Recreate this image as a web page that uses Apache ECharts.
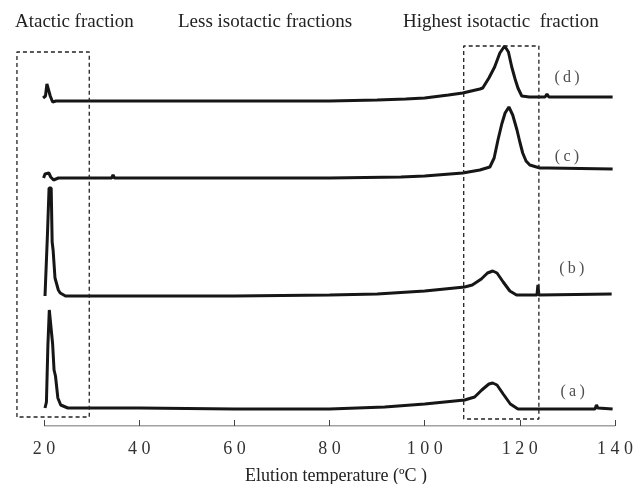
<!DOCTYPE html>
<html>
<head>
<meta charset="utf-8">
<script src="https://cdn.jsdelivr.net/npm/echarts@6/dist/echarts.min.js"></script>
<style>
  html, body { margin: 0; padding: 0; background: #fff; }
  #main { width: 638px; height: 484px; }
</style>
</head>
<body>
<div id="main"></div>
<script>
// elution temperature (°C) vs detector signal, traces stacked with an offset
var traceA = [[20.2, 18], [20.5, 24], [20.8, 80], [21.1, 116], [21.5, 116], [21.8, 82], [22.1, 56], [22.4, 50],
    [22.9, 28], [23.5, 21], [25, 18], [40, 18], [60, 17], [80, 17], [91.6, 19], [100, 22], [108.4, 26],
    [110.5, 29], [112, 36], [113.5, 42], [114.3, 43], [115.2, 41], [116.5, 32], [118, 22], [119.6, 17],
    [125, 17], [135.8, 17], [136.1, 21], [136.4, 18], [139.5, 17]]
var traceB = [[20.2, 130], [20.4, 132], [20.7, 190], [21.05, 238], [21.5, 238], [21.7, 184], [21.9, 176],
    [22.3, 148], [23.0, 136], [23.4, 133], [24.5, 130], [40, 130], [60, 130], [80, 131], [90, 132], [100, 135],
    [108.4, 139], [110, 141], [111.9, 147], [113.2, 153], [114.3, 155], [115.2, 153], [116.5, 144],
    [117.9, 135], [119.3, 131], [123.6, 131], [123.8, 141], [124.0, 131], [139.3, 132]]
var traceC = [[19.9, 248], [20.2, 252], [20.6, 254], [21.0, 253], [21.4, 249], [22, 246], [23, 248],
    [34.2, 248], [34.5, 251], [34.8, 248], [60, 248], [80, 248], [95, 249], [100, 250], [108, 253],
    [111.6, 256], [113.7, 259], [114.6, 268], [115.4, 286], [116.2, 302], [116.9, 313], [117.7, 319],
    [118.5, 311], [119.4, 296], [120.0, 284], [120.6, 273], [121.3, 265], [122.1, 261], [124.2, 258],
    [126, 258], [139.5, 257]]
var traceD = [[19.8, 328], [20.3, 330], [20.6, 342], [21.0, 342], [21.3, 330], [21.8, 324], [22.5, 325],
    [40, 325], [60, 325], [80, 325], [90, 326], [96, 327], [100, 328], [105, 331], [108, 333],
    [111.6, 337], [112.2, 338], [113.5, 348], [114.7, 359], [115.8, 373], [116.8, 380], [117.6, 374],
    [118.3, 359], [119.0, 347], [119.6, 338], [120.4, 330], [122, 329], [125.3, 329], [125.7, 332],
    [126.1, 329], [139.5, 329]]

var traceLabels = [[131.1, 34, '(\u2009a\u2009)'], [130.9, 157, '(\u2009b\u2009)'],
    [129.9, 269, '(\u2009c\u2009)'], [129.9, 348, '(\u2009d\u2009)']]

// dashed boxes around the atactic and highest isotactic regions
var boxAtactic = [[14.3, 9], [14.3, 374], [29.5, 374], [29.5, 9], [14.3, 9]]
var boxIsotactic = [[108.2, 7], [108.2, 380], [124.0, 380], [124.0, 7], [108.2, 7]]

var xTicks = [20, 40, 60, 80, 100, 120, 140]
var axisBase = [[20, 0], [140, 0]]

var serif = 'Liberation Serif'
var ink = '#161616'

var chart = echarts.init(document.getElementById('main'))

function traceSeries(data) {
    return {
        type: 'line',
        data: data,
        symbol: 'none',
        lineStyle: { color: ink, width: 3 },
        silent: true
    }
}

function boxSeries(data) {
    return {
        type: 'line',
        data: data,
        symbol: 'none',
        clip: false,
        lineStyle: { color: '#222', width: 1.3, type: [4, 3] },
        silent: true
    }
}

function headStyle(size) {
    return { fontFamily: serif, fontSize: size, fontWeight: 'normal', color: '#222' }
}

var option = {
    animation: false,
    backgroundColor: '#fff',
    title: [
        { text: 'Atactic fraction', left: 15, top: 13, padding: 0, textStyle: headStyle(19) },
        { text: 'Less isotactic fractions', left: 178, top: 13, padding: 0, textStyle: headStyle(19) },
        { text: 'Highest isotactic  fraction', left: 403, top: 13, padding: 0, textStyle: headStyle(19) },
        { text: 'Elution temperature (ºC )', left: 245, top: 467, padding: 0, textStyle: headStyle(18) }
    ],
    grid: { left: 6, right: 23, top: 40, bottom: 58, outerBoundsMode: 'none' },
    xAxis: {
        type: 'value',
        min: 12,
        max: 140,
        axisLine: { show: false },
        axisTick: { show: true, inside: true, length: 6, customValues: xTicks, lineStyle: { color: '#444' } },
        splitLine: { show: false },
        axisLabel: {
            margin: 14,
            fontFamily: serif,
            fontSize: 18,
            color: '#333',
            customValues: xTicks,
            formatter: function (v) {
                return String(v).split('').join(' ')
            }
        }
    },
    yAxis: {
        type: 'value',
        min: 0,
        max: 386,
        show: false
    },
    series: [
        {
            type: 'line',
            data: axisBase,
            symbol: 'none',
            lineStyle: { color: '#444', width: 1 },
            silent: true
        },
        traceSeries(traceA),
        traceSeries(traceB),
        traceSeries(traceC),
        traceSeries(traceD),
        boxSeries(boxAtactic),
        boxSeries(boxIsotactic),
        {
            type: 'scatter',
            data: traceLabels,
            symbolSize: 1,
            itemStyle: { color: 'rgba(0,0,0,0)' },
            label: {
                show: true,
                position: 'inside',
                fontFamily: serif,
                fontSize: 16,
                color: '#222',
                formatter: function (p) { return p.data[2] }
            },
            silent: true
        }
    ]
}
chart.setOption(option, true)
</script>
</body>
</html>
